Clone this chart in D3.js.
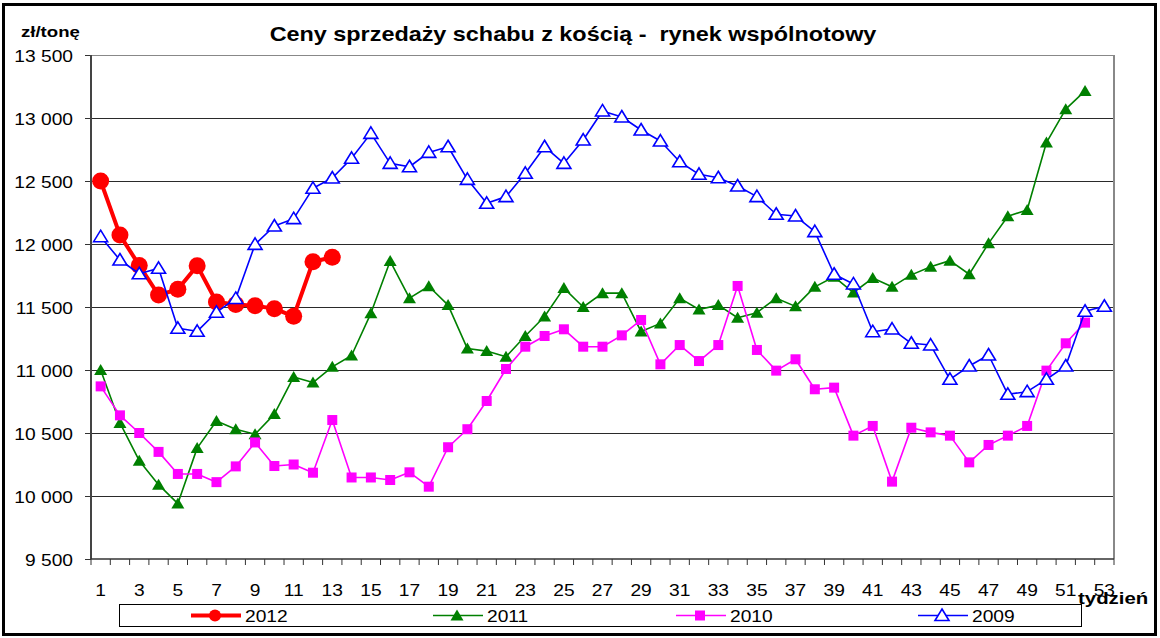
<!DOCTYPE html>
<html>
<head>
<meta charset="utf-8">
<script src="https://cdn.jsdelivr.net/npm/d3@7/dist/d3.min.js"></script>
<style>
  body { margin: 0; background: #fff; }
  svg { display: block; font-family: "Liberation Sans", Arial, sans-serif; }
</style>
</head>
<body>
<svg id="chart" width="1160" height="638"></svg>
<script>
// Data (zł/tonę per week)
const weeks = [1,2,3,4,5,6,7,8,9,10,11,12,13,14,15,16,17,18,19,20,21,22,23,24,25,26,27,
  28,29,30,31,32,33,34,35,36,37,38,39,40,41,42,43,44,45,46,47,48,49,50,51,52,53];
const weekLabels = [1,3,5,7,9,11,13,15,17,19,21,23,25,27,29,31,33,35,37,39,41,43,45,47,49,51,53];
const yTicks = [9500,10000,10500,11000,11500,12000,12500,13000,13500];

const v2012 = [12500,12071,11830,11595,11640,11828,11540,11520,11510,11487,11426,11859,11895];
const v2011 = [11000,10580,10280,10090,9940,10380,10595,10530,10490,10650,10945,10900,11025,
  11115,11450,11865,11570,11665,11515,11170,11150,11105,11270,11425,11650,11500,11610,11610,
  11305,11370,11570,11480,11515,11415,11455,11570,11505,11660,11740,11615,11730,11660,11755,
  11820,11868,11760,12005,12220,12270,12805,13070,13215];
const v2010 = [10870,10640,10500,10350,10175,10175,10110,10235,10425,10238,10250,10185,10603,
  10147,10147,10127,10188,10074,10387,10530,10754,11008,11185,11270,11323,11185,11185,11275,
  11397,11045,11198,11071,11198,11667,11159,10995,11085,10847,10860,10479,10556,10114,10542,
  10505,10479,10267,10405,10479,10556,10995,11212,11376];
const v2009 = [12058,11873,11764,11807,11331,11307,11458,11568,11997,12143,12201,12442,12524,
  12680,12878,12640,12613,12727,12772,12513,12323,12376,12561,12772,12640,12825,13056,13008,
  12905,12817,12653,12553,12526,12460,12376,12236,12222,12098,11760,11683,11304,11325,11212,
  11198,10926,11032,11119,10807,10828,10926,11032,11466,11506];

const series = [
  { name: "2012", values: v2012, color: "#ff0000", width: 4, marker: "circle" },
  { name: "2011", values: v2011, color: "#008000", width: 1.6, marker: "triFill" },
  { name: "2010", values: v2010, color: "#ff00ff", width: 1.6, marker: "square" },
  { name: "2009", values: v2009, color: "#0000ff", width: 1.6, marker: "triOpen" }
];

const svg = d3.select("#chart");
const W = 1160, H = 638;
const plot = { left: 91, right: 1114, top: 55, bottom: 559 };
const SX = 1.2; // text in the original is drawn wider than it is tall

// put a text at (x,y) and widen it horizontally
function place(sel, px, py) {
  return sel.attr("x", 0).attr("y", 0)
    .attr("transform", `translate(${px},${py}) scale(${SX},1)`);
}

// outer frame
svg.append("rect")
  .attr("x", 3.5).attr("y", 4.5).attr("width", W - 8).attr("height", H - 8)
  .attr("fill", "#fff").attr("stroke", "#000").attr("stroke-width", 3);

const x = d3.scalePoint().domain(weeks).range([plot.left, plot.right]).padding(0.5);
const y = d3.scaleLinear().domain([9500, 13500]).range([plot.bottom, plot.top]);
const step = x.step();

// gridlines
svg.append("g").selectAll("line")
  .data(yTicks.slice(1))
  .join("line")
    .attr("x1", plot.left).attr("x2", plot.right)
    .attr("y1", d => Math.round(y(d)) + 0.5).attr("y2", d => Math.round(y(d)) + 0.5)
    .attr("stroke", d => d === 13500 ? "#888" : "#2a2a2a").attr("stroke-width", 1.2);

// plot border right
svg.append("line")
  .attr("x1", plot.right).attr("x2", plot.right).attr("y1", plot.top).attr("y2", plot.bottom)
  .attr("stroke", "#888").attr("stroke-width", 2);

// y axis
const yAxis = svg.append("g").attr("transform", `translate(${plot.left},0)`)
  .call(d3.axisLeft(y).tickValues(yTicks).tickSize(6)
    .tickFormat(d => d3.format(",")(d).replace(",", " ")));
yAxis.select(".domain").remove();
yAxis.selectAll(".tick line").attr("stroke", "#333");
yAxis.selectAll(".tick text")
  .attr("font-size", 16).attr("fill", "#000").attr("dy", null)
  .each(function() { place(d3.select(this), -18, 6); });
svg.append("line")
  .attr("x1", plot.left).attr("x2", plot.left).attr("y1", plot.top).attr("y2", plot.bottom)
  .attr("stroke", "#444").attr("stroke-width", 2);

// x axis: ticks at category boundaries
const xAxisG = svg.append("g");
xAxisG.append("line")
  .attr("x1", plot.left).attr("x2", plot.right).attr("y1", plot.bottom).attr("y2", plot.bottom)
  .attr("stroke", "#333").attr("stroke-width", 1.5);
xAxisG.selectAll("line.tk")
  .data(weeks.concat([54]))
  .join("line").attr("class", "tk")
    .attr("x1", d => plot.left + (d - 1) * step).attr("x2", d => plot.left + (d - 1) * step)
    .attr("y1", plot.bottom).attr("y2", plot.bottom + 6)
    .attr("stroke", "#333");
xAxisG.selectAll("text")
  .data(weekLabels)
  .join("text")
    .attr("text-anchor", "middle").attr("font-size", 16)
    .each(function(d) { place(d3.select(this), x(d), 596); })
    .text(d => d);

// titles
place(svg.append("text"), 573, 41).attr("text-anchor", "middle")
  .attr("font-weight", "bold").attr("font-size", 19.5)
  .style("white-space", "pre")
  .text("Ceny sprzedaży schabu z kością -  rynek wspólnotowy");
place(svg.append("text"), 21, 37)
  .attr("font-weight", "bold").attr("font-size", 15.5).text("zł/tonę");
place(svg.append("text"), 1078, 604)
  .attr("font-weight", "bold").attr("font-size", 17).text("tydzień");

// markers
function drawMarker(g, type, color) {
  if (type === "circle") {
    g.append("circle").attr("r", 8.5).attr("fill", color);
  } else if (type === "triFill") {
    g.append("path").attr("d", "M0,-6L6.5,5L-6.5,5Z").attr("fill", color);
  } else if (type === "triOpen") {
    g.append("path").attr("d", "M0,-6.5L7,5L-7,5Z")
      .attr("fill", "#fff").attr("stroke", color).attr("stroke-width", 1.6);
  } else if (type === "square") {
    g.append("rect").attr("x", -5).attr("y", -5).attr("width", 10).attr("height", 10)
      .attr("fill", color);
  }
}

const line = d3.line().x((d, i) => x(weeks[i])).y(d => y(d));

series.forEach(s => {
  const g = svg.append("g");
  g.append("path").datum(s.values)
    .attr("d", line).attr("fill", "none")
    .attr("stroke", s.color).attr("stroke-width", s.width).attr("stroke-linejoin", "round");
  g.selectAll("g.m")
    .data(s.values)
    .join("g").attr("class", "m")
      .attr("transform", (d, i) => `translate(${x(weeks[i])},${y(d)})`)
      .each(function() { drawMarker(d3.select(this), s.marker, s.color); });
});

// legend
const leg = svg.append("g");
leg.append("rect").attr("x", 119.5).attr("y", 604.5).attr("width", 962).attr("height", 22)
  .attr("fill", "#fff").attr("stroke", "#000");
const legX = [191, 433, 676, 918];
series.forEach((s, i) => {
  const lg = leg.append("g").attr("transform", `translate(${legX[i]},615.5)`);
  lg.append("line").attr("x1", 0).attr("x2", 50)
    .attr("stroke", s.color).attr("stroke-width", s.width);
  const mg = lg.append("g").attr("transform", "translate(24,0)");
  drawMarker(mg, s.marker, s.color);
  if (s.marker === "circle") mg.select("circle").attr("r", 6);
  place(lg.append("text"), 54, 6).attr("font-size", 16).text(s.name);
});
</script>
</body>
</html>
